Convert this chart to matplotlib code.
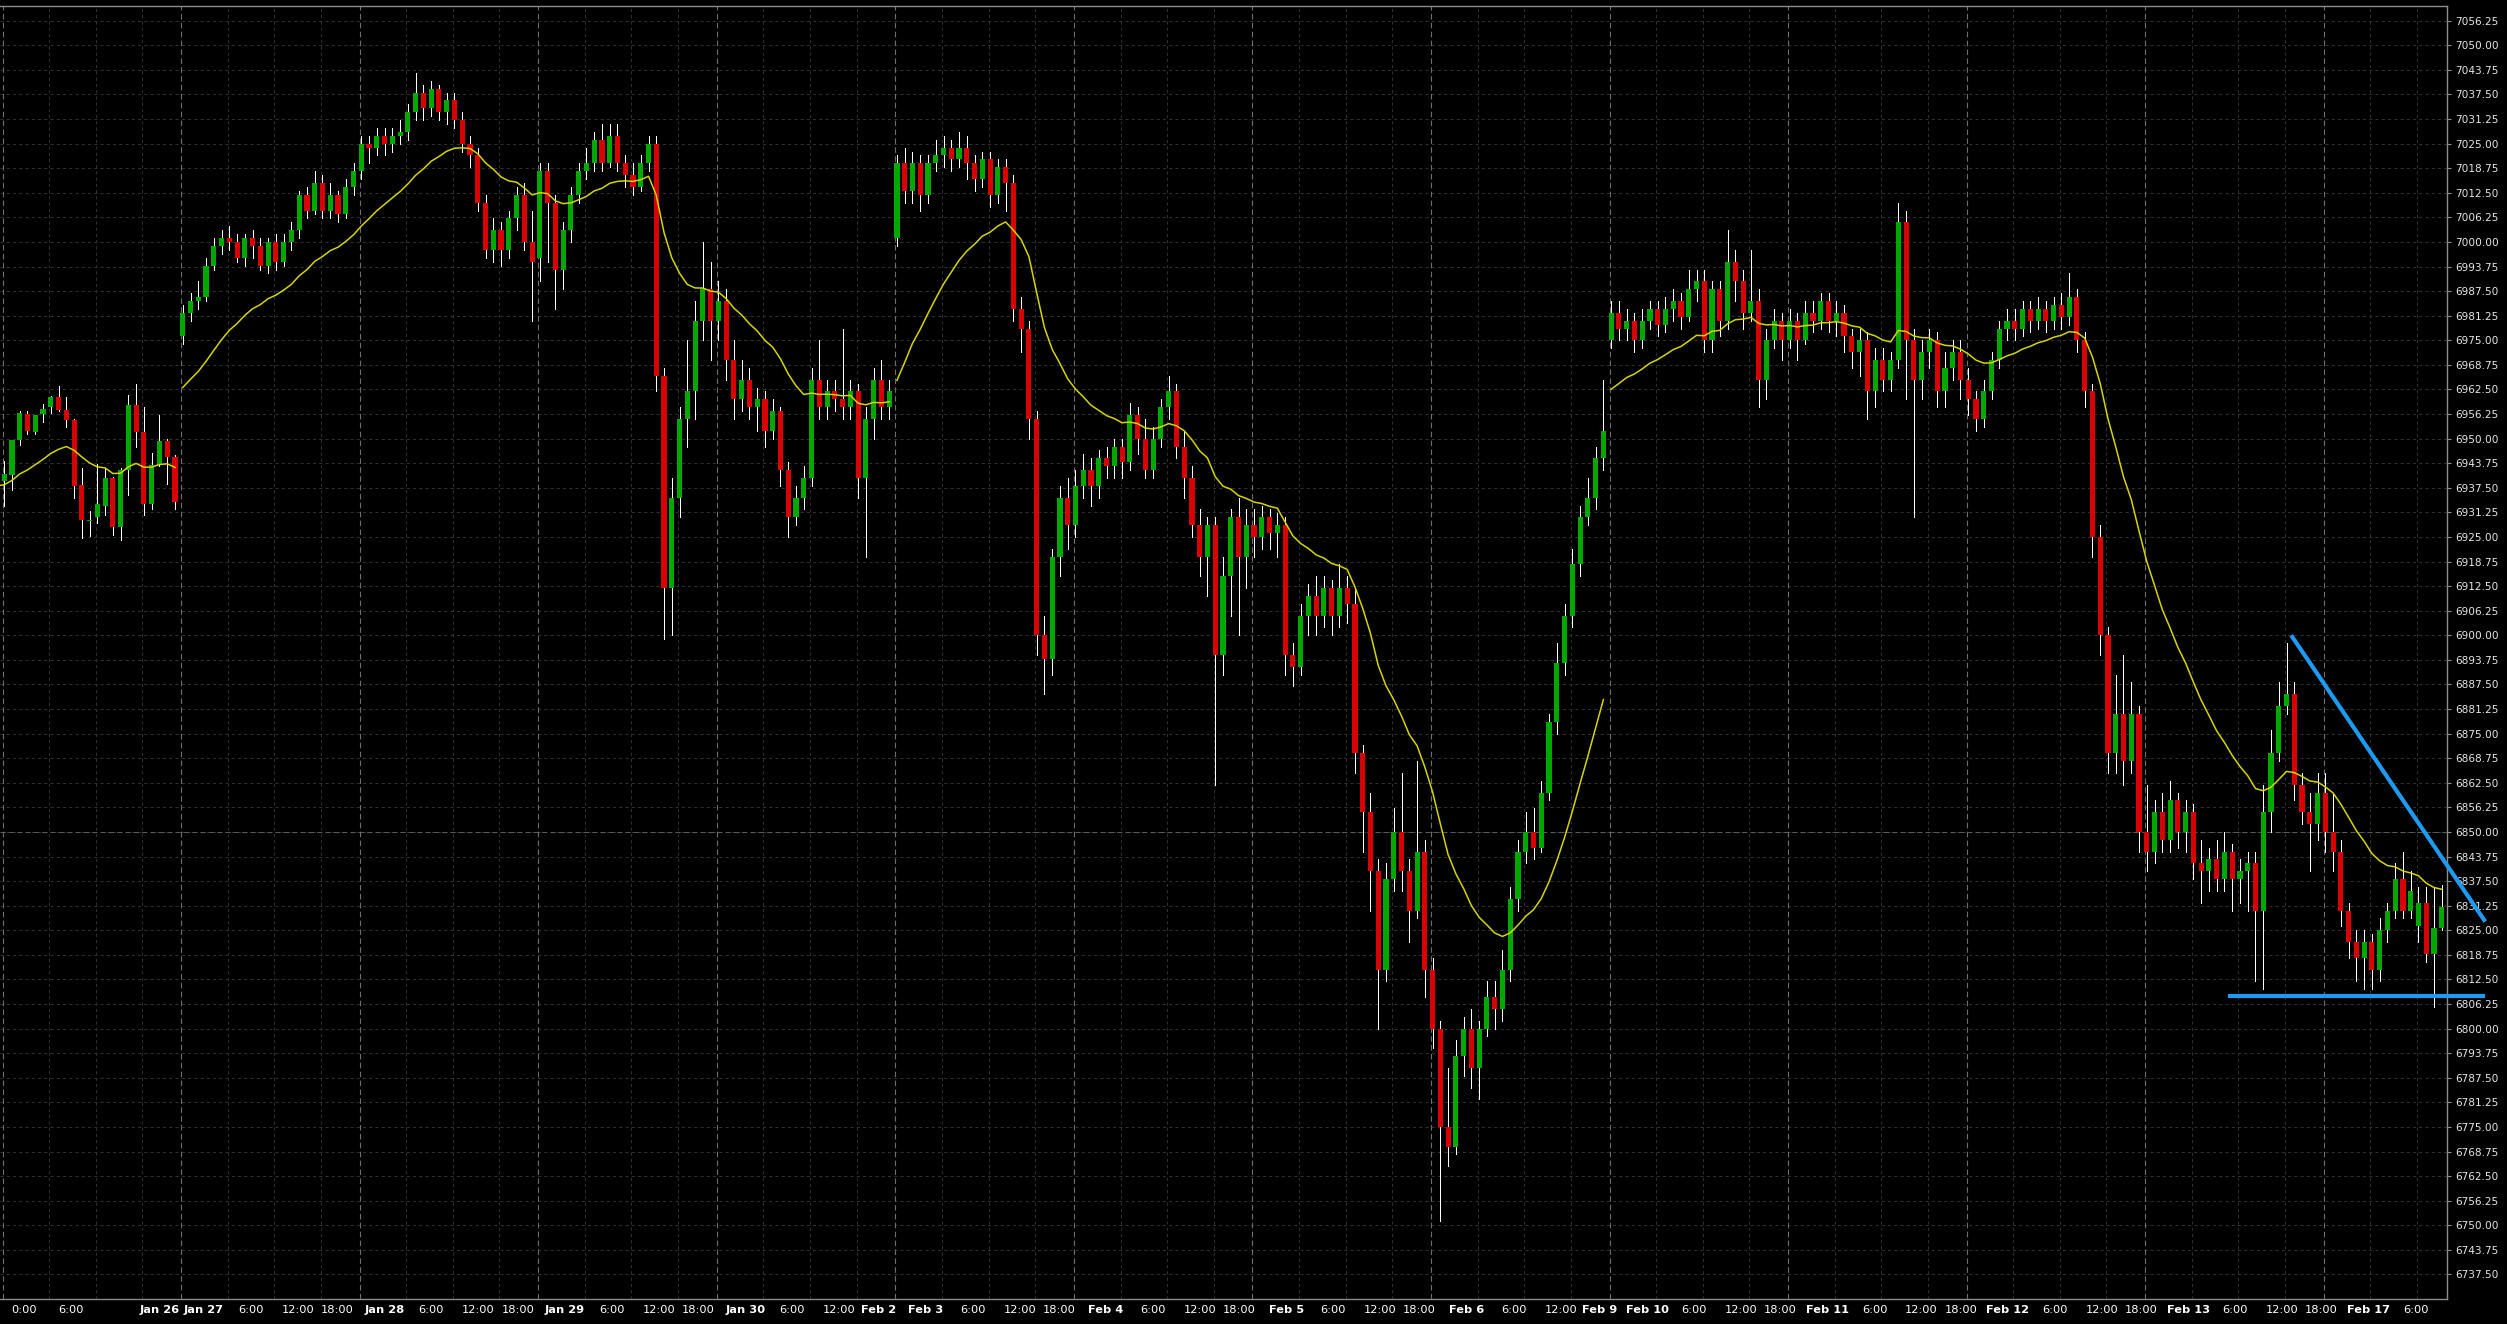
import matplotlib
matplotlib.use("Agg")
import matplotlib.pyplot as plt
import numpy as np

# ---------------- data (hourly candles, index -1 .. 314) ----------------
open_ = [6946, 6939.25, 6940.75, 6949.75, 6956.25, 6951.75, 6956.25, 6958, 6960.5, 6957.25, 6954.75, 6938.25, 6929, 6930, 6933, 6940, 6927.5, 6942, 6958.5, 6951.75, 6933.5, 6943.25, 6949.5, 6945.25,
         6976, 6982, 6985, 6986, 6994, 6999, 7001, 7000, 6996, 7001, 6999, 6994, 7000, 6995, 7000, 7003, 7012, 7008, 7015, 7008, 7012, 7007, 7014,
         7018, 7025, 7024, 7027, 7025, 7027, 7028, 7033, 7038, 7034, 7039, 7033, 7036, 7031, 7025, 7022, 7010, 6998, 7003, 6998, 7006, 7012, 7000,
         6996, 7018, 7010, 6993, 7003, 7012, 7018, 7020, 7026, 7020, 7027, 7020, 7017, 7014, 7020, 7025, 6966, 6912, 6935, 6955, 6962, 6980, 6988,
         6980, 6985, 6970, 6960, 6965, 6958, 6960, 6952, 6957, 6942, 6930, 6935, 6940, 6965, 6958, 6962, 6960, 6958, 6962, 6940, 6955, 6965, 6958,
         7001, 7020, 7013, 7020, 7012, 7020, 7022, 7024, 7021, 7024, 7020, 7016, 7021, 7012, 7019, 7015, 6983, 6978, 6955, 6900, 6894, 6920, 6935,
         6928, 6938, 6942, 6938, 6945, 6943, 6948, 6944, 6956, 6950, 6942, 6950, 6958, 6962, 6948, 6940, 6928, 6920, 6928, 6895, 6915, 6930, 6920,
         6928, 6925, 6930, 6926, 6928, 6895, 6892, 6905, 6910, 6905, 6912, 6905, 6912, 6908, 6870, 6855, 6840, 6815, 6838, 6850, 6840, 6830, 6845,
         6815, 6800, 6775, 6770, 6793, 6800, 6790, 6800, 6808, 6805, 6815, 6833, 6845, 6850, 6846, 6860, 6878, 6893, 6905, 6918, 6930, 6935, 6945,
         6975, 6982, 6978, 6980, 6975, 6980, 6983, 6979, 6983, 6985, 6981, 6988, 6990, 6975, 6988, 6980, 6995, 6990, 6982, 6985, 6965, 6975, 6980,
         6975, 6980, 6975, 6982, 6980, 6985, 6980, 6982, 6976, 6972, 6975, 6962, 6970, 6965, 6970, 7005, 6975, 6965, 6972, 6975, 6962, 6968, 6972,
         6965, 6960, 6955, 6962, 6970, 6978, 6980, 6978, 6983, 6980, 6983, 6980, 6984, 6981, 6986, 6975, 6962, 6925, 6900, 6870, 6880, 6868, 6880,
         6850, 6845, 6855, 6848, 6858, 6850, 6855, 6842, 6840, 6843, 6838, 6845, 6838, 6840, 6842, 6830, 6855, 6870, 6882, 6885, 6862, 6855, 6852,
         6860, 6850, 6845, 6830, 6822, 6818, 6822, 6815, 6825, 6830, 6838, 6830, 6826, 6832, 6819, 6825.5]
high_ = [6947, 6944.25, 6949.75, 6957, 6957, 6956, 6958.75, 6960.75, 6963.5, 6960.5, 6955, 6942.5, 6931.5, 6943.5, 6942.5, 6940.25, 6942.5, 6961, 6964, 6958, 6946.25, 6956, 6950, 6945.75,
         6984, 6987, 6990, 6996, 7001, 7003, 7004, 7002, 7002, 7003, 7001, 7001, 7002, 7002, 7005, 7013, 7014, 7018, 7017, 7015, 7013, 7016, 7020,
         7027, 7027, 7029, 7029, 7029, 7031, 7035, 7043, 7040, 7041, 7040, 7038, 7038, 7033, 7027, 7024, 7012, 7006, 7005, 7008, 7014, 7015, 7008,
         7020, 7020, 7012, 7005, 7014, 7020, 7024, 7028, 7030, 7030, 7030, 7022, 7020, 7022, 7027, 7027, 6968, 6940, 6958, 6975, 6985, 7000, 6995,
         6990, 6988, 6975, 6970, 6968, 6963, 6962, 6960, 6958, 6944, 6938, 6943, 6968, 6975, 6965, 6965, 6978, 6965, 6964, 6958, 6968, 6970, 6965,
         7022, 7024, 7023, 7022, 7022, 7026, 7027, 7026, 7028, 7027, 7022, 7023, 7023, 7021, 7021, 7017, 6986, 6980, 6957, 6905, 6922, 6938, 6940,
         6942, 6946, 6945, 6947, 6948, 6950, 6950, 6959, 6958, 6955, 6953, 6960, 6966, 6964, 6952, 6943, 6932, 6930, 6930, 6920, 6932, 6935, 6932,
         6932, 6933, 6932, 6931, 6930, 6898, 6908, 6913, 6915, 6915, 6914, 6918, 6915, 6912, 6872, 6860, 6843, 6842, 6856, 6865, 6843, 6868, 6848,
         6818, 6802, 6790, 6797, 6803, 6805, 6802, 6812, 6812, 6820, 6836, 6848, 6855, 6856, 6863, 6880, 6898, 6908, 6922, 6933, 6940, 6948, 6965,
         6985, 6985, 6983, 6982, 6983, 6985, 6985, 6986, 6988, 6987, 6993, 6993, 6993, 6990, 6990, 7003, 6998, 6993, 6998, 6988, 6978, 6983, 6982,
         6983, 6982, 6985, 6985, 6987, 6987, 6985, 6984, 6978, 6978, 6977, 6973, 6973, 6972, 7010, 7008, 6978, 6975, 6978, 6977, 6972, 6975, 6975,
         6968, 6962, 6965, 6972, 6980, 6983, 6983, 6985, 6985, 6986, 6985, 6986, 6987, 6992, 6988, 6977, 6964, 6928, 6902, 6890, 6895, 6888, 6882,
         6862, 6858, 6860, 6863, 6860, 6858, 6857, 6848, 6846, 6848, 6850, 6847, 6843, 6845, 6845, 6862, 6876, 6888, 6898, 6888, 6865, 6860, 6865,
         6865, 6860, 6848, 6832, 6825, 6825, 6824, 6828, 6832, 6842, 6845, 6840, 6836, 6836, 6836, 6836.5]
low_ = [6936, 6933, 6937, 6948.5, 6951.25, 6951.25, 6954.25, 6956.5, 6957, 6953, 6935, 6924.75, 6925.25, 6928.5, 6930.5, 6925.5, 6924.25, 6935.75, 6948, 6930.5, 6932, 6943, 6938.5, 6932,
        6974, 6980, 6983, 6985, 6993, 6997, 6998, 6995, 6994, 6996, 6993, 6992, 6993, 6994, 6998, 7001, 7006, 7007, 7006, 7006, 7005, 7006, 7012,
        7016, 7020, 7022, 7022, 7023, 7025, 7026, 7031, 7031, 7032, 7031, 7030, 7029, 7023, 7019, 7008, 6996, 6995, 6994, 6996, 7003, 6998, 6980,
        6990, 6995, 6983, 6988, 7000, 7010, 7016, 7018, 7018, 7019, 7018, 7014, 7012, 7013, 7018, 6962, 6899, 6900, 6930, 6948, 6955, 6975, 6970,
        6975, 6965, 6955, 6957, 6955, 6952, 6948, 6950, 6938, 6925, 6928, 6932, 6938, 6955, 6955, 6957, 6955, 6955, 6935, 6920, 6950, 6955, 6955,
        6999, 7010, 7010, 7008, 7010, 7018, 7019, 7018, 7019, 7016, 7013, 7014, 7009, 7010, 7008, 6980, 6972, 6950, 6895, 6885, 6890, 6915, 6922,
        6925, 6935, 6933, 6935, 6940, 6940, 6940, 6942, 6946, 6940, 6940, 6948, 6955, 6945, 6935, 6925, 6915, 6910, 6862, 6890, 6905, 6900, 6912,
        6920, 6922, 6922, 6920, 6890, 6887, 6890, 6900, 6900, 6902, 6900, 6902, 6903, 6865, 6845, 6830, 6800, 6812, 6835, 6835, 6822, 6828, 6808,
        6795, 6751, 6765, 6768, 6788, 6785, 6782, 6798, 6800, 6802, 6812, 6830, 6842, 6843, 6845, 6858, 6875, 6890, 6902, 6915, 6928, 6932, 6942,
        6973, 6975, 6975, 6972, 6973, 6978, 6976, 6977, 6980, 6978, 6980, 6985, 6972, 6972, 6976, 6978, 6985, 6978, 6980, 6958, 6960, 6973, 6970,
        6973, 6970, 6974, 6977, 6978, 6977, 6976, 6972, 6968, 6966, 6955, 6958, 6962, 6962, 6968, 6960, 6930, 6960, 6968, 6958, 6958, 6965, 6960,
        6956, 6952, 6953, 6960, 6968, 6975, 6975, 6976, 6977, 6978, 6977, 6978, 6978, 6979, 6972, 6958, 6920, 6895, 6865, 6865, 6862, 6865, 6845,
        6840, 6842, 6845, 6845, 6846, 6845, 6838, 6832, 6835, 6835, 6835, 6830, 6832, 6830, 6812, 6810, 6850, 6868, 6880, 6858, 6852, 6840, 6848,
        6845, 6840, 6826, 6818, 6812, 6810, 6810, 6812, 6822, 6828, 6828, 6828, 6822, 6817, 6805.5, 6825]
close_ = [6938, 6941, 6949.75, 6956.5, 6952, 6956, 6957.5, 6960.5, 6957.25, 6954.75, 6938, 6929.25, 6929.25, 6933.5, 6940, 6927.5, 6942, 6958.5, 6951.75, 6933.5, 6943.25, 6949.5, 6945.25, 6934,
          6982, 6985, 6986, 6994, 6999, 7001, 7000, 6996, 7001, 6999, 6994, 7000, 6995, 7000, 7003, 7012, 7008, 7015, 7008, 7012, 7007, 7014, 7018,
          7025, 7024, 7027, 7025, 7027, 7028, 7033, 7038, 7034, 7039, 7033, 7036, 7031, 7025, 7022, 7010, 6998, 7003, 6998, 7006, 7012, 7000, 6995,
          7018, 7010, 6993, 7003, 7012, 7018, 7020, 7026, 7020, 7027, 7020, 7017, 7014, 7020, 7025, 6966, 6912, 6935, 6955, 6962, 6980, 6988, 6980,
          6985, 6970, 6960, 6965, 6958, 6960, 6952, 6957, 6942, 6930, 6935, 6940, 6965, 6958, 6962, 6960, 6958, 6962, 6940, 6955, 6965, 6958, 6962,
          7020, 7013, 7020, 7012, 7020, 7022, 7024, 7021, 7024, 7020, 7016, 7021, 7012, 7019, 7015, 6983, 6978, 6955, 6900, 6894, 6920, 6935, 6928,
          6938, 6942, 6938, 6945, 6943, 6948, 6944, 6956, 6950, 6942, 6950, 6958, 6962, 6948, 6940, 6928, 6920, 6928, 6895, 6915, 6930, 6920, 6928,
          6925, 6930, 6926, 6928, 6895, 6892, 6905, 6910, 6905, 6912, 6905, 6912, 6908, 6870, 6855, 6840, 6815, 6838, 6850, 6840, 6830, 6845, 6815,
          6800, 6775, 6770, 6793, 6800, 6790, 6800, 6808, 6805, 6815, 6833, 6845, 6850, 6846, 6860, 6878, 6893, 6905, 6918, 6930, 6935, 6945, 6952,
          6982, 6978, 6980, 6975, 6980, 6983, 6979, 6983, 6985, 6981, 6988, 6990, 6975, 6988, 6980, 6995, 6990, 6982, 6985, 6965, 6975, 6980, 6975,
          6980, 6975, 6982, 6980, 6985, 6980, 6982, 6976, 6972, 6975, 6962, 6970, 6965, 6970, 7005, 6975, 6965, 6972, 6975, 6962, 6968, 6972, 6965,
          6960, 6955, 6962, 6970, 6978, 6980, 6978, 6983, 6980, 6983, 6980, 6984, 6981, 6986, 6975, 6962, 6925, 6900, 6870, 6880, 6868, 6880, 6850,
          6845, 6855, 6848, 6858, 6850, 6855, 6842, 6840, 6843, 6838, 6845, 6838, 6840, 6842, 6830, 6855, 6870, 6882, 6885, 6862, 6855, 6852, 6860,
          6850, 6845, 6830, 6822, 6818, 6822, 6815, 6825, 6830, 6838, 6830, 6835, 6832, 6819, 6825.5, 6831]
first_index = -1
week_starts = [23, 115, 207]           # candles that open a new week (average line restarts)
week_ma_start = [6961.0, 6959.0, 6960.5]
ma_period = 20

day_starts = [0, 23, 46, 69, 92, 115, 138, 161, 184, 207, 230, 253, 276, 299]
xtick_idx = [0, 6, 18, 23, 29, 35, 40, 46, 52, 58, 63, 69, 75, 81, 86, 92, 98, 104, 109, 115,
             121, 127, 132, 138, 144, 150, 155, 161, 167, 173, 178, 184, 190, 196, 201, 207,
             213, 219, 224, 230, 236, 242, 247, 253, 259, 265, 270, 276, 282, 288, 293, 299, 305]
xtick_text = ["0:00", "6:00", "Jan 26", "Jan 27", "6:00", "12:00", "18:00", "Jan 28", "6:00", "12:00", "18:00",
              "Jan 29", "6:00", "12:00", "18:00", "Jan 30", "6:00", "12:00", "Feb 2", "Feb 3", "6:00", "12:00",
              "18:00", "Feb 4", "6:00", "12:00", "18:00", "Feb 5", "6:00", "12:00", "18:00", "Feb 6", "6:00",
              "12:00", "Feb 9", "Feb 10", "6:00", "12:00", "18:00", "Feb 11", "6:00", "12:00", "18:00", "Feb 12",
              "6:00", "12:00", "18:00", "Feb 13", "6:00", "12:00", "18:00", "Feb 17", "6:00"]
ytick_start, ytick_stop, ytick_step = 6737.5, 7056.25, 6.25
highlight_level = 6850.0

trend_x = [294.6, 319.6]
trend_y = [6900.0, 6827.2]
support_x = [286.4, 319.6]
support_y = [6808.25, 6808.25]

# ---------------- figure ----------------
W, H = 2507, 1324
fig = plt.figure(figsize=(W / 100, H / 100), dpi=100)
fig.patch.set_facecolor("black")
ax_left, ax_right, ax_bottom, ax_top = 0, 2447, 1299, 6   # pixels
ax = fig.add_axes([ax_left / W, (H - ax_bottom) / H, (ax_right - ax_left) / W, (ax_bottom - ax_top) / H])
ax.set_facecolor("black")

bar_px = 7.763
x0_px = 4.2
ax.set_xlim(-x0_px / bar_px, (ax_right - x0_px) / bar_px)
ax.set_ylim(6731.25, 7060.0)

o = np.array(open_, float); h = np.array(high_, float)
l = np.array(low_, float); c = np.array(close_, float)
idx = np.arange(first_index, first_index + len(c))

# grid
yt = np.arange(ytick_start, ytick_stop + 0.01, ytick_step)
for y in yt:
    ax.axhline(y, color="#303030", lw=0.75, ls=(0, (3, 3)), zorder=0)
ax.axhline(highlight_level, color="#5a5a5a", lw=0.75, ls=(0, (5, 3)), zorder=0)
for d in day_starts:
    for k, off in enumerate((0, 6, 12, 18)):
        g = d + off
        if g > idx[-1]:
            continue
        if k == 0:
            ax.axvline(g - 0.2, color="#6e6e6e", lw=0.8, ls=(0, (5, 3)), zorder=0)
        else:
            ax.axvline(g - 0.2, color="#303030", lw=0.75, ls=(0, (3, 3)), zorder=0)

# candles
up = c >= o
ax.vlines(idx, l, h, colors="white", lw=0.7, zorder=2, antialiased=False)
body_h = np.maximum(np.abs(c - o), 0.3)
body_b = np.minimum(o, c)
ax.bar(idx[up], body_h[up], bottom=body_b[up], width=0.66, color="#00A800", lw=0, zorder=3)
ax.bar(idx[~up], body_h[~up], bottom=body_b[~up], width=0.66, color="#D80000", lw=0, zorder=3)

# exponential moving average of closes, restarting at each new week
alpha = 2.0 / (ma_period + 1)
ema = np.empty_like(c)
seg_id = np.searchsorted(week_starts, idx, side="right")
prev = c[0]
for k in range(len(c)):
    if k > 0 and seg_id[k] != seg_id[k - 1]:
        prev = week_ma_start[seg_id[k] - 1]
    prev = prev + alpha * (c[k] - prev)
    ema[k] = prev
for g in np.unique(seg_id):
    m = seg_id == g
    ax.plot(idx[m], ema[m], color="#D4D400", lw=1.1, zorder=4)

# trend lines
ax.plot(trend_x, trend_y, color="#1E9BF0", lw=3.0, solid_capstyle="butt", clip_on=False, zorder=6)
ax.plot(support_x, support_y, color="#1E9BF0", lw=3.0, solid_capstyle="butt", clip_on=False, zorder=6)

# axes styling
ax.spines["left"].set_visible(False)
for side in ("right", "bottom", "top"):
    ax.spines[side].set_color("#8c8c8c")
    ax.spines[side].set_linewidth(1.0)
ax.yaxis.tick_right()
ax.set_yticks(yt)
ax.set_yticklabels([f"{v:.2f}" for v in yt])
ax.tick_params(axis="y", colors="#8c8c8c", labelcolor="#E6E6E6", labelsize=7.6, length=3, pad=3, width=0.8)
ax.set_xticks([])

# x labels
label_x0_px, label_step_px = 23.6, 7.843
texts = []
for i, t in zip(xtick_idx, xtick_text):
    xd = (label_x0_px + label_step_px * i - x0_px) / bar_px
    bold = t.startswith(("Jan", "Feb"))
    tx = ax.text(xd, -(1310 - ax_bottom) / (ax_bottom - ax_top), t, transform=ax.get_xaxis_transform(),
                 ha="center", va="center", color="white", fontsize=8.2,
                 fontweight="bold" if bold else "normal")
    texts.append(tx)

fig.canvas.draw()
r = fig.canvas.get_renderer()
for j in range(len(texts) - 2, -1, -1):
    b1 = texts[j].get_window_extent(r)
    b2 = texts[j + 1].get_window_extent(r)
    if b1.x1 + 4 > b2.x0:
        shift = (b1.x1 + 4 - b2.x0) / bar_px
        xx, yy = texts[j].get_position()
        texts[j].set_position((xx - shift, yy))

fig.savefig("out.png", dpi=100, facecolor="black")
